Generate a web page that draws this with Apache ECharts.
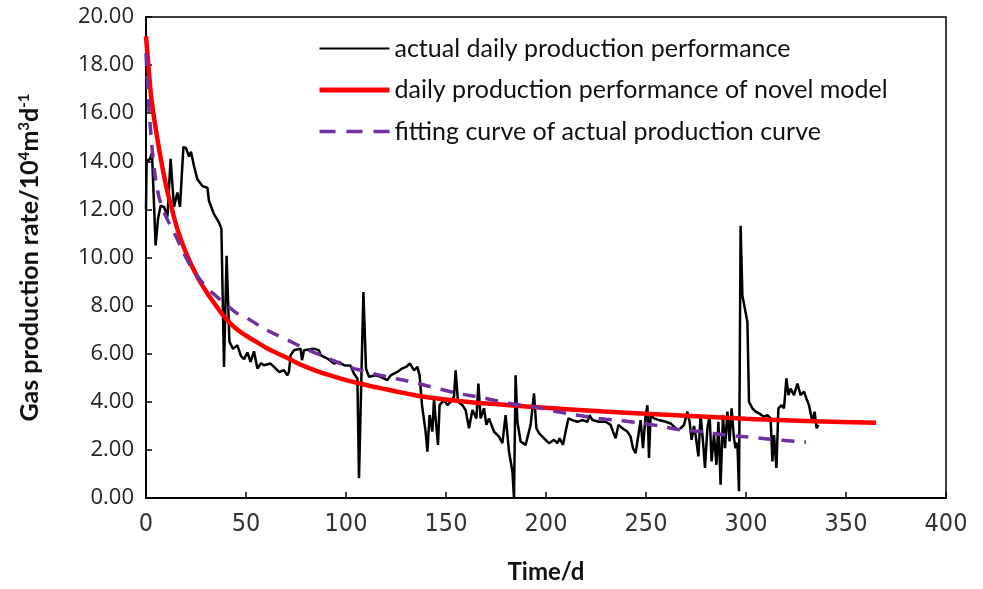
<!DOCTYPE html>
<html>
<head>
<meta charset="utf-8">
<title>Gas production rate</title>
<script src="https://cdn.jsdelivr.net/npm/echarts@6/dist/echarts.min.js"></script>
<style>
  html, body { margin: 0; padding: 0; background: #fff; }
  #chart { width: 983px; height: 589px; }
</style>
</head>
<body>
<div id="chart"></div>
<script>
// actual daily production (days, 10^4 m3/d)
const actualDays = [
  0, 0.3, 2, 3, 4.8, 6, 7.3, 9, 10.7, 12.3, 14, 15.7, 17, 18.7, 20, 21.5, 22.5, 24, 25.7, 28.2,
  30.7, 31.5, 34, 36.5, 37.7, 39, 40.3, 41.7, 43.5, 45.7, 47.5, 49, 50.7, 52.3, 54, 55.7, 57.5, 59,
  62.3, 64, 66.5, 69, 70.7, 71.5, 72.3, 74, 77.3, 78, 79, 84, 86.5, 87.3, 90.7, 94, 96.5, 99,
  102.3, 104, 105.7, 106.5, 108.7, 110, 111.5, 114.8, 117.3, 120.7, 122.3, 125.7, 128, 130, 132,
  134, 135.7, 136.8, 138, 139.8, 140.7, 141.8, 143.2, 144, 144.8, 146, 146.8, 149, 150.7, 152.3,
  154, 154.8, 156, 158.2, 159.8, 161.5, 163.2, 165.2, 166.2, 167.3, 169, 170.2, 171.5, 174, 176.5,
  178.2, 179.8, 181.5, 183.2, 184, 184.8, 185.7, 187.3, 189.8, 192.3, 194, 195.2, 196.5, 199,
  201.5, 204, 205.7, 206.8, 208.5, 209.8, 211.2, 213.2, 215.7, 218.2, 220.7, 221.8, 223.2, 226.5,
  229.8, 232.3, 233.5, 234.8, 236.2, 238.2, 240.7, 242.3, 243.5, 244.8, 246.2, 247.3, 248.5,
  249.8, 250.7, 251.5, 252.3, 254, 256.5, 259.8, 262.3, 264, 265.7, 267.3, 269, 270.7, 271.8,
  272.8, 274, 274.8, 276.2, 277.3, 278.5, 279.5, 280.7, 281.8, 282.8, 284, 285.2, 286.2, 287.3,
  288.5, 289.5, 290.7, 291.8, 292.8, 294, 294.8, 295.7, 296.5, 297.3, 298.2, 300.7, 301.5, 303.2,
  304.8, 306.5, 309, 310.7, 312.3, 313.2, 314, 315.2, 316.2, 317.8, 319, 320.2, 321.2, 322.3, 324,
  325.7, 327.3, 329, 330.2, 331.5, 333.2, 334.3, 335.3, 336.2
]
const actualRate = [
  12.0, 14.0, 14.1, 14.35, 10.5, 11.6, 12.15, 12.1, 11.7, 14.1, 12.1, 12.7, 12.1, 14.6, 14.55, 14.2, 14.4, 13.8, 13.25, 12.97,
  12.9, 12.35, 11.8, 11.45, 11.2, 5.45, 10.07, 6.5, 6.2, 6.35, 5.9, 5.77, 6.05, 5.66, 6.1, 5.38, 5.6, 5.52,
  5.59, 5.45, 5.24, 5.31, 5.1, 5.25, 5.94, 6.14, 6.21, 5.73, 6.14, 6.21, 6.14, 5.94, 5.8, 5.59, 5.66, 5.52,
  5.5, 5.17, 4.97, 0.82, 8.56, 5.38, 5.04, 5.1, 5.04, 4.9, 5.1, 5.24, 5.38, 5.45, 5.59,
  5.31, 5.45, 5.1, 3.86, 2.76, 1.93, 3.45, 2.76, 4.14, 3.31, 2.21, 3.86, 4.07, 3.86, 4.0,
  4.21, 5.31, 4.0, 3.86, 3.66, 2.9, 3.66, 3.31, 4.76, 3.31, 3.73, 3.04, 3.31, 2.76, 2.55,
  2.28, 3.45, 1.93, 1.1, 0.0, 5.1, 3.17, 2.35, 2.21, 3.04, 4.35, 2.9, 2.7, 2.48,
  2.28, 2.42, 2.28, 2.48, 2.21, 2.76, 3.31, 3.24, 3.17, 3.24, 3.17, 3.45, 3.24, 3.17,
  3.17, 3.04, 2.76, 2.48, 3.04, 2.9, 2.76, 2.55, 2.07, 1.86, 2.62, 3.24, 2.07,
  3.45, 3.86, 1.66, 3.45, 3.31, 3.24, 3.17, 3.1, 2.97, 2.83, 2.9, 3.04, 3.59, 3.17,
  2.42, 3.0, 2.62, 1.73, 3.45, 2.35, 1.25, 2.9, 3.45, 1.52, 2.62, 1.38, 3.17, 0.55,
  3.45, 2.07, 3.59, 2.35, 3.73, 2.48, 2.07, 2.3, 0.28, 11.32, 8.42, 7.32, 4.0, 3.73,
  3.59, 3.52, 3.38, 3.45, 3.31, 1.52, 2.62, 1.25, 3.73, 3.86, 3.73, 4.97, 4.28, 4.55, 4.28,
  4.76, 4.28, 4.42, 4.14, 3.86, 3.17, 3.59, 2.9, 3.04
]

// novel model curve
const modelDays = [0, 1, 2, 3, 5, 7, 10, 13, 16, 20, 25, 30, 35, 40, 45, 50, 55, 60, 70, 80, 90, 100,
  110, 120, 130, 140, 160, 180, 200, 225, 250, 275, 300, 330, 365]
const modelRate = [19.2, 18.2, 17.2, 16.4, 15.3, 14.3, 13.0, 12.0, 11.1, 10.2, 9.3, 8.6, 8.0, 7.45, 7.05,
  6.75, 6.5, 6.25, 5.85, 5.45, 5.15, 4.9, 4.7, 4.52, 4.35, 4.2, 4.0, 3.87, 3.75, 3.62, 3.5, 3.4, 3.3, 3.2, 3.13]

// fitting curve of actual data
const fitDays = [0, 1, 2, 4, 6, 8, 10, 13, 16, 20, 25, 30, 35, 40, 46, 50, 55, 60, 70, 80, 90, 100, 110,
  120, 132, 146, 156, 170, 182, 193, 205, 216, 230, 241, 255, 266, 278, 290, 303, 315, 330]
const fitRate = [18.5, 16.9, 15.6, 13.8, 12.7, 12.1, 11.7, 11.2, 10.7, 10.0, 9.3, 8.8, 8.4, 8.05, 7.65, 7.5,
  7.25, 7.0, 6.6, 6.2, 5.85, 5.5, 5.25, 5.05, 4.84, 4.55, 4.35, 4.14, 3.93, 3.8, 3.6, 3.44, 3.27, 3.18,
  3.02, 2.85, 2.75, 2.62, 2.52, 2.42, 2.32]

const seriesNames = [
  'actual daily production performance',
  'daily production performance of novel model',
  'fitting curve of actual production curve'
]

const zip = (xs, ys) => xs.map((x, i) => [x, ys[i]])

const chart = echarts.init(document.getElementById('chart'))

chart.setOption({
  animation: false,
  backgroundColor: '#fff',
  grid: {
    left: 146, right: 37, top: 17, bottom: 89,
    show: true, borderColor: '#000', borderWidth: 1.5, backgroundColor: 'transparent'
  },
  legend: {
    orient: 'vertical',
    left: 312,
    top: 31,
    itemWidth: 70,
    itemHeight: 16,
    itemGap: 16.5,
    selectedMode: false,
    itemStyle: { opacity: 0 },
    textStyle: { fontFamily: 'Lato', fontSize: 25, color: '#111', lineHeight: 25 },
    data: [
      { name: seriesNames[0], lineStyle: { width: 2 } },
      { name: seriesNames[1], lineStyle: { width: 5 } },
      { name: seriesNames[2], lineStyle: { width: 3.5, type: [16, 11] } }
    ]
  },
  xAxis: {
    type: 'value',
    min: 0,
    max: 400,
    interval: 50,
    name: 'Time/d',
    nameLocation: 'middle',
    nameGap: 62,
    nameTextStyle: { fontFamily: 'Lato', fontWeight: 'bold', fontSize: 24, color: '#111' },
    axisLine: { lineStyle: { color: '#000', width: 2 } },
    axisTick: { inside: true, length: 6, lineStyle: { color: '#000', width: 1.5 } },
    axisLabel: {
      margin: 14,
      fontFamily: "'Liberation Sans Narrow', 'DejaVu Sans Condensed', 'Liberation Serif'",
      fontSize: 25,
      color: '#333'
    },
    splitLine: { show: false }
  },
  yAxis: {
    type: 'value',
    min: 0,
    max: 20,
    interval: 2,
    name: 'Gas production rate/10{sup|4}m{sup|3}d{sup|-1}',
    nameLocation: 'middle',
    nameRotate: 90,
    nameGap: 104,
    nameTextStyle: {
      fontFamily: 'Lato', fontWeight: 'bold', fontSize: 25, color: '#111',
      rich: {
        sup: { fontFamily: 'Lato', fontWeight: 'bold', fontSize: 15, color: '#111', verticalAlign: 'top', padding: [0, 0, 10, 0] }
      }
    },
    axisLine: { show: true, lineStyle: { color: '#000', width: 2 } },
    axisTick: { show: true, inside: true, length: 6, lineStyle: { color: '#000', width: 1.5 } },
    axisLabel: {
      margin: 12,
      fontFamily: 'Open Sans',
      fontSize: 22,
      color: '#222',
      formatter: (v) => v.toFixed(2)
    },
    splitLine: { show: false }
  },
  series: [
    {
      name: seriesNames[0],
      type: 'line',
      data: zip(actualDays, actualRate),
      symbol: 'none',
      z: 3,
      lineStyle: { color: '#000', width: 2.5 },
      itemStyle: { color: '#000' }
    },
    {
      name: seriesNames[1],
      type: 'line',
      data: zip(modelDays, modelRate),
      symbol: 'none',
      smooth: true,
      z: 4,
      lineStyle: { color: '#ff0000', width: 4.5 },
      itemStyle: { color: '#ff0000' }
    },
    {
      name: seriesNames[2],
      type: 'line',
      data: zip(fitDays, fitRate),
      symbol: 'none',
      smooth: true,
      z: 5,
      lineStyle: { color: '#7030a0', width: 3.5, type: [13, 10] },
      itemStyle: { color: '#7030a0' }
    }
  ]
})
</script>
</body>
</html>
